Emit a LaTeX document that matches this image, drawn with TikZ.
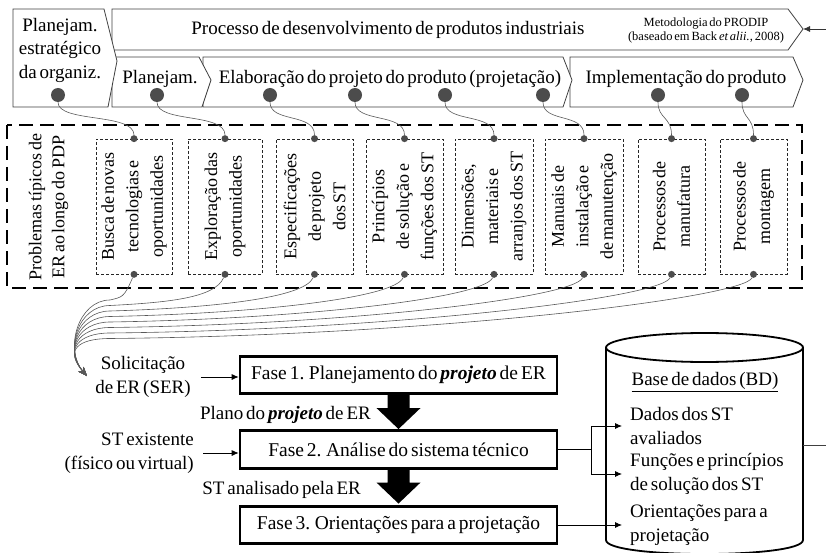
\documentclass[tikz,border=0pt]{standalone}
\usepackage{fontspec}
\setmainfont{Liberation Serif}[WordSpace=0.6]
\usetikzlibrary{arrows.meta}
\begin{document}
\begin{tikzpicture}[x=1pt,y=-1pt,
  chev/.style={draw=black!75, line width=0.8pt, fill=white, line join=miter},
  bigdot/.style={circle, fill=black!70, inner sep=0pt, minimum size=14pt},
  smalldot/.style={circle, fill=black!70, inner sep=0pt, minimum size=7pt},
  conn/.style={draw=black!65, line width=0.6pt},
  lbl/.style={font=\fontsize{19}{23.5}\selectfont, inner sep=0pt, align=center},
  vlbl/.style={font=\fontsize{18}{24.5}\selectfont, inner sep=0pt, align=center, rotate=90},
  ibox/.style={draw=black!85, line width=0.7pt, dash pattern=on 3pt off 2pt, minimum height=135pt, inner sep=0pt},
  fasebox/.style={draw=black, line width=2.6pt, minimum width=317pt, minimum height=37.5pt, inner sep=0pt, font=\fontsize{19.5}{22}\selectfont},
  arr/.style={draw=black, line width=0.8pt, -{Latex[length=7pt,width=6pt]}},
  cyl/.style={draw=black, line width=1.8pt},
]
\useasboundingbox (0,0) rectangle (826,553);
% ---- chevrons
\draw[chev] (570,57) -- (793,57) -- (803,80) -- (793,107) -- (570,107) -- cycle;
\draw[chev] (203,57) -- (563,57) -- (572,80) -- (563,107) -- (203,107) -- cycle;
\draw[chev] (112,57) -- (199,57) -- (211,80) -- (202,107) -- (112,107) -- cycle;
\draw[chev] (112,9) -- (788,9) -- (803,29) -- (788,50) -- (112,50) -- cycle;
\draw[chev] (13,9) -- (104,9) -- (117,61) -- (108,107) -- (13,107) -- cycle;
% ---- chevron texts
\node[lbl] (org) at (60,50) {Planejam.\\estratégico\\da organiz.};
\node[lbl] (proc) at (388,30) {Processo de desenvolvimento de produtos industriais};
\node[font=\fontsize{12.5}{14}\selectfont, align=center, inner sep=0pt] (met) at (706,30) {Metodologia do PRODIP\\(baseado em Back \textit{et alii.}, 2008)};
\node[lbl] (plan) at (160,79) {Planejam.};
\node[lbl] (elab) at (390,79) {Elaboração do projeto do produto (projetação)};
\node[lbl] (impl) at (686,79) {Implementação do produto};
% ---- dots on chevrons
\node[bigdot] (d1) at (58,95) {};
\node[bigdot] (d2) at (157,95) {};
\node[bigdot] (d3) at (270,95) {};
\node[bigdot] (d4) at (355,95) {};
\node[bigdot] (d5) at (445,95) {};
\node[bigdot] (d6) at (543,95) {};
\node[bigdot] (d7) at (658,95) {};
\node[bigdot] (d8) at (742,95) {};
% ---- big dashed frame
\draw[line width=2.2pt, dash pattern=on 14pt off 7pt] (7,125) rectangle (802,288);
\node[vlbl, font=\fontsize{18}{23}\selectfont] (prob) at (48.5,207) {Problemas típicos de\\ER ao longo do PDP};
% ---- problem boxes
\node[ibox, minimum width=76pt] (b1) at (134,206.5) {};
\node[ibox, minimum width=74pt] (b2) at (225,206.5) {};
\node[ibox, minimum width=77pt] (b3) at (314.5,206.5) {};
\node[ibox, minimum width=77pt] (b4) at (404.5,206.5) {};
\node[ibox, minimum width=78pt] (b5) at (494,206.5) {};
\node[ibox, minimum width=78pt] (b6) at (584,206.5) {};
\node[ibox, minimum width=67pt] (b7) at (671.5,206.5) {};
\node[ibox, minimum width=67pt] (b8) at (753.5,206.5) {};
\node[vlbl] (v1) at (b1.center) {Busca de novas\\tecnologias e\\oportunidades};
\node[vlbl] (v2) at (b2.center) {Exploração das\\oportunidades};
\node[vlbl] (v3) at (b3.center) {Especificações\\de projeto\\dos ST};
\node[vlbl] (v4) at (b4.center) {Princípios\\de solução e\\funções dos ST};
\node[vlbl] (v5) at (b5.center) {Dimensões,\\materiais e\\arranjos dos ST};
\node[vlbl] (v6) at (b6.center) {Manuais de\\instalação e\\de manutenção};
\node[vlbl] (v7) at (b7.center) {Processos de\\manufatura};
\node[vlbl] (v8) at (b8.center) {Processos de\\montagem};
\foreach \i in {1,...,8}{
  \node[smalldot] (t\i) at (b\i.north) {};
  \node[smalldot] (s\i) at (b\i.south) {};
}
% ---- top connectors
\draw[conn] (d1) .. controls +(0,28) and +(0,-26) .. (t1);
\draw[conn] (d2) .. controls +(0,28) and +(0,-26) .. (t2);
\draw[conn] (d3) .. controls +(0,28) and +(0,-26) .. (t3);
\draw[conn] (d4) .. controls +(0,28) and +(0,-26) .. (t4);
\draw[conn] (d5) .. controls +(0,28) and +(0,-26) .. (t5);
\draw[conn] (d6) .. controls +(0,28) and +(0,-26) .. (t6);
\draw[conn] (d7) .. controls +(0,24) and +(0,-22) .. (t7);
\draw[conn] (d8) .. controls +(0,24) and +(0,-22) .. (t8);
% ---- bottom connectors to SER
\coordinate (tip) at (87,376);
\begin{scope}[conn, -{Stealth[length=9pt,width=7pt]}]
\draw (s1) .. controls (124,298) and (122,297) .. (110,300) .. controls (78,300) and (64,350) .. (tip);
\draw (s2) .. controls (215,298) and (167.5,302.5) .. (110,305.5) .. controls (78,305.5) and (64,350) .. (tip);
\draw (s3) .. controls (304.5,298) and (212,308) .. (110,311) .. controls (78,311) and (64,350) .. (tip);
\draw (s4) .. controls (394.5,298) and (257,313.5) .. (110,316.5) .. controls (78,316.5) and (64,350) .. (tip);
\draw (s5) .. controls (484,298) and (302,319) .. (110,322) .. controls (78,322) and (64,350) .. (tip);
\draw (s6) .. controls (574,298) and (347,324.5) .. (110,327.5) .. controls (78,327.5) and (64,350) .. (tip);
\draw (s7) .. controls (661.5,298) and (391,330) .. (110,333) .. controls (78,333) and (64,350) .. (tip);
\draw (s8) .. controls (743.5,298) and (432,335.5) .. (110,338.5) .. controls (78,338.5) and (64,350) .. (tip);
\end{scope}
% ---- phases
\node[fasebox] (f1) at (398.5,375) {Fase 1. Planejamento do \textbf{\textit{projeto}} de ER};
\node[fasebox] (f2) at (398.5,449.5) {Fase 2. Análise do sistema técnico};
\node[fasebox] (f3) at (398.5,525) {Fase 3. Orientações para a projetação};
\fill ([xshift=-11pt]f1.south) -- ++(22,0) -- ++(0,13) -- ++(11,0) -- ++(-22,21) -- ++(-22,-21) -- ++(11,0) -- cycle;
\fill ([xshift=-11pt]f2.south) -- ++(22,0) -- ++(0,13) -- ++(11,0) -- ++(-22,21) -- ++(-22,-21) -- ++(11,0) -- cycle;
% ---- side labels
\node[lbl] (sol) at (143,377) {Solicitação\\de ER (SER)};
\node[lbl, anchor=east] (plano) at (371,415) {Plano do \textbf{\textit{projeto}} de ER};
\node[lbl, align=right, anchor=east] (ste) at (194,453) {ST existente\\(físico ou virtual)};
\node[lbl, anchor=east] (sta) at (361,490) {ST analisado pela ER};
\draw[arr, shorten <=10pt] (sol.east) -- (sol.east -| f1.west);
\draw[arr, shorten <=9pt] (ste.east) -- (ste.east -| f2.west);
% ---- database cylinder
\draw[cyl] (704.5,347.5) ellipse [x radius=98.5, y radius=14.5];
\draw[cyl] (606,347.5) -- (606,540) .. controls (606,558.7) and (803,558.7) .. (803,540) -- (803,347.5);
\node[lbl] (bd) at (705,382) {\underline{Base de dados (BD)}};
\node[lbl, align=left, anchor=west] (dad) at (630,426) {Dados dos ST\\avaliados};
\node[lbl, align=left, anchor=west] (fun) at (630,474) {Funções e princípios\\de solução dos ST};
\node[lbl, align=left, anchor=west] (ori) at (630,525) {Orientações para a\\projetação};
\coordinate (br) at ([xshift=33pt]f2.east);
\draw[line width=0.8pt] (f2.east) -- (br);
\draw[arr, shorten >=8pt] (br) |- (dad.west);
\draw[arr, shorten >=8pt] (br) |- (fun.west);
\draw[arr, shorten >=8pt] (f3.east) -- (ori.west);
% ---- lines leaving the picture
\coordinate (cylR) at (803,445);
\coordinate (outR) at (830,445);
\draw[line width=0.8pt, black!75] (cylR) -- (outR);
\coordinate (outT) at (830,29);
\coordinate (procR) at (803,29);
\draw[arr, draw=black!80] (outT) -- (procR);
\end{tikzpicture}
\end{document}
